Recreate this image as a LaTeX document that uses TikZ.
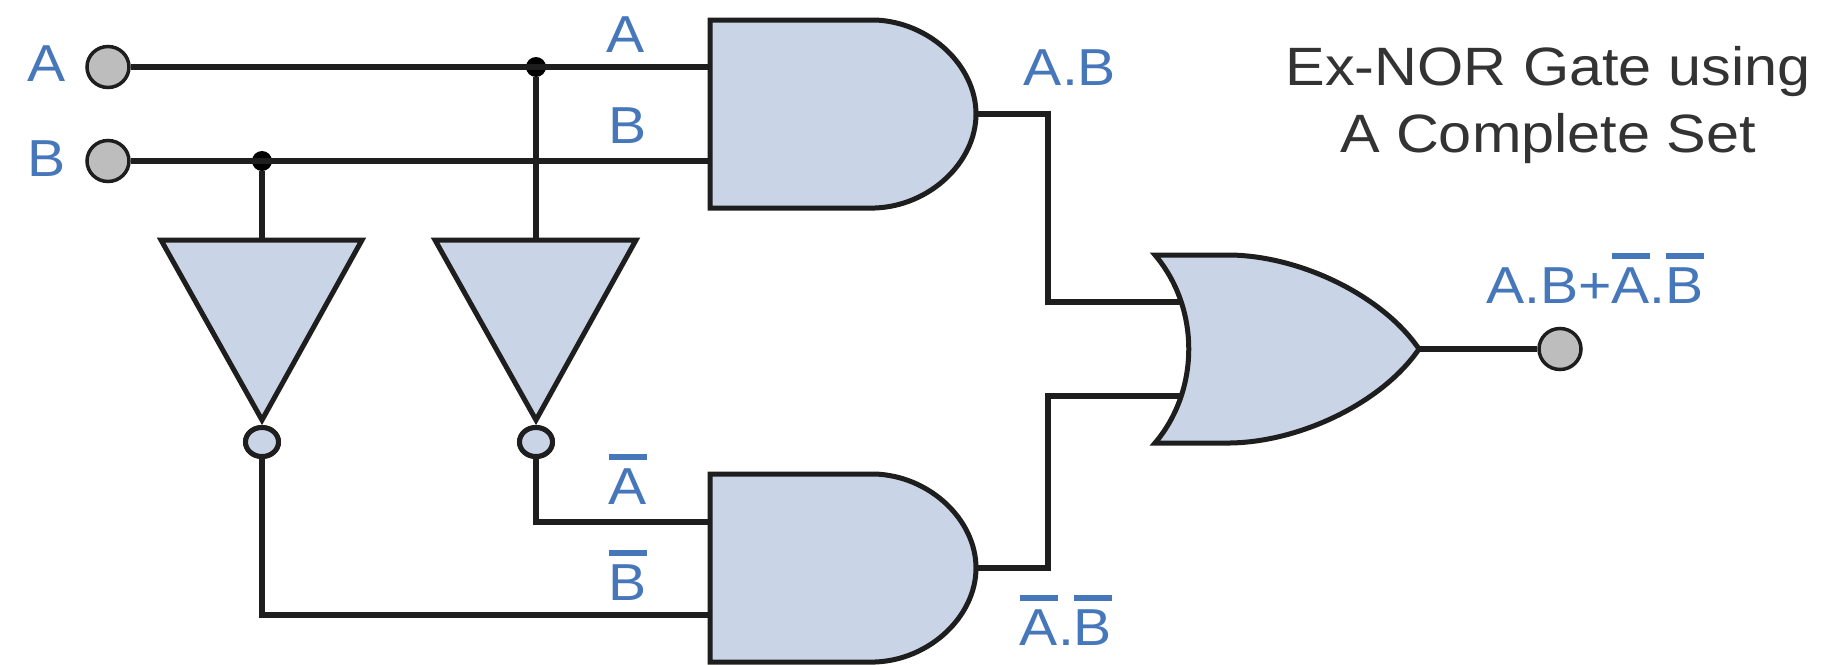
\documentclass[tikz,border=0pt]{standalone}
\usepackage{fontspec}
\setmainfont{Liberation Sans}
\newfontfamily\widefont[FakeStretch=1.1]{Liberation Sans}
\usetikzlibrary{calc,shapes.geometric}
\definecolor{gatefill}{HTML}{C9D5E6}
\definecolor{wire}{HTML}{1E1E1E}
\definecolor{lbl}{HTML}{4677BA}
\definecolor{term}{HTML}{BDBDBD}
\tikzset{
 x=1pt,y=-1pt,
 gate/.style={draw=wire,fill=gatefill,line width=5pt,miter limit=10},
 wireline/.style={draw=wire,line width=5.2pt},
 termnode/.style={ellipse,draw=wire,fill=term,line width=3.5pt,minimum width=42pt,minimum height=41pt,inner sep=0pt},
 bubble/.style={ellipse,draw=wire,fill=gatefill,line width=5pt,minimum width=33pt,minimum height=29pt,inner sep=0pt},
 dotnode/.style={circle,fill=black,minimum size=20pt,inner sep=0pt},
 lab/.style={text=lbl,font=\widefont\fontsize{52}{52}\selectfont,inner sep=0pt,anchor=base},
 title/.style={text=black!80,font=\widefont\fontsize{54}{67}\selectfont,inner sep=0pt,align=center}
}
\newcommand{\ovl}[1]{\leavevmode\vbox{\hrule height 6pt\kern 8pt\hbox{#1}}}
\begin{document}
\begin{tikzpicture}
\useasboundingbox (0,0) rectangle (1841,664);
\fill[white] (0,0) rectangle (1841,664);
% terminals and junctions
\node[termnode] (ta) at (108,67) {};
\node[termnode] (tb) at (108,161) {};
\node[termnode] (tout) at (1560,349) {};
\node[dotnode] (da) at (536,67) {};
\node[dotnode] (db) at (262,161) {};
\coordinate (g1a) at (710,67);
\coordinate (g1b) at (710,161);
\coordinate (g2a) at (710,522);
\coordinate (g2b) at (710,615);
\coordinate (g1o) at (976,114);
\coordinate (g2o) at (976,568);
\coordinate (oa) at (1185,302);
\coordinate (ob) at (1185,396);
\coordinate (oo) at (1419,349);
\coordinate (inv1top) at (262,240);
\coordinate (inv2top) at (536,240);
\node[bubble] (b1) at (262,442) {};
\node[bubble] (b2) at (536,442) {};
% wires
\draw[wireline] (ta) -- (g1a);
\draw[wireline] (tb) -- (g1b);
\draw[wireline] (da) -- (inv2top);
\draw[wireline] (db) -- (inv1top);
\draw[wireline] (b2) |- (g2a);
\draw[wireline] (b1) |- (g2b);
\draw[wireline,line join=miter] (g1o) -| (1048,302) -- (oa);
\draw[wireline,line join=miter] (g2o) -| (1048,396) -- (ob);
\draw[wireline] (oo) -- (tout);
% AND gates
\draw[gate] (710,20) -- (875,20) .. controls (930,22) and (976,66) .. (976,114)
  .. controls (976,162) and (930,206) .. (875,208) -- (710,208) -- cycle;
\draw[gate] (710,474) -- (875,474) .. controls (930,476) and (976,520) .. (976,568)
  .. controls (976,616) and (930,660) .. (875,662) -- (710,662) -- cycle;
% OR gate
\draw[gate] (1155,255) -- (1230,255) .. controls (1300,256) and (1382,295) .. (1419,349)
  .. controls (1382,403) and (1300,442) .. (1230,443) -- (1155,443)
  .. controls (1200,390) and (1200,308) .. (1155,255) -- cycle;
% inverters
\draw[gate] (161,240) -- (362,240) -- (262,420) -- cycle;
\draw[gate] (435,240) -- (636,240) -- (536,420) -- cycle;
\node[bubble] at (b1) {};
\node[bubble] at (b2) {};
% labels
\node[lab] (la) at (47,81) {A};
\node[lab] (lb) at (47,176) {B};
\node[lab] at (626,52) {A};
\node[lab] at (628,143) {B};
\node[lab] at (1070,85) {A.B};
\node[lab] at (628,504) {\ovl{A}};
\node[lab] at (628,600) {\ovl{B}};
\node[lab] at (1066,645) {\ovl{A}.\ovl{B}};
\node[lab] at (1595,303) {A.B+\ovl{A}.\ovl{B}};
\node[title] at (1548,105) {Ex-NOR Gate using\\A Complete Set};
\end{tikzpicture}
\end{document}
